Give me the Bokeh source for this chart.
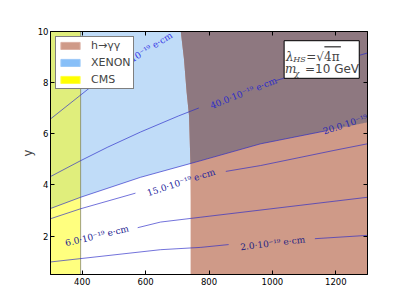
import numpy as np
from bokeh.plotting import figure
from bokeh.models import (Range1d, LinearAxis, FixedTicker, CustomJSTickFormatter,
                          Legend, LegendItem, BoxAnnotation, Label, Arrow)
from bokeh.core.properties import value
from bokeh.embed import file_html
from bokeh.resources import INLINE

nan = float("nan")

# ---------------- data ----------------
M_min, M_max = 300, 1300
y_min, y_max = 0.5, 10
x_ticks = [400, 600, 800, 1000, 1200]
y_ticks = [2, 4, 6, 8, 10]

# CMS excluded band in M
cms_M = [300, 395]

# h -> gamma gamma boundary (M as function of y)
hgg_y = [10, 8.93, 7.62, 6.71, 5.0, 3.4, 0.5]
hgg_M = [711, 721, 729.5, 737, 741, 742, 742]

# EDM contour lines (NaN = gap where the inline label sits)
c2_M = [300, 647, 774, 862, nan, 1134, 1300]
c2_y = [0.99, 1.47, 1.56, 1.67, nan, 1.90, 2.03]
c6_M = [575, 647, 774, 1300]
c6_y = [2.33, 2.55, 2.74, 3.52]
c15_M = [300, 395, 568, nan, 853, 963, 1194, 1300]
c15_y = [2.68, 3.07, 3.68, nan, 4.53, 4.76, 5.35, 5.61]
c20_M = [300, 395, 584, 774, 963, 1174, nan, 1300]   # also XENON boundary
c20_y = [3.08, 3.52, 4.30, 4.95, 5.61, 6.13, nan, 6.45]
c40_M = [300, 395, 479, 584, 704, 768, nan, 1011, 1269, 1300]
c40_y = [4.33, 4.95, 5.47, 6.07, 6.70, 7.01, nan, 8.08, 9.05, 9.16]
c80_M = [300, 426, 520]
c80_y = [6.58, 7.82, 8.5]

label_texts = ["2.0·10⁻¹⁹ e·cm", "6.0·10⁻¹⁹ e·cm", "15.0·10⁻¹⁹ e·cm",
               "20.0·10⁻¹⁹", "40.0·10⁻¹⁹ e·cm", "80.0·10⁻¹⁹ e·cm"]
label_M = [1001, 447, 712, 1230, 909, 587]
label_y = [1.717, 2.01, 4.10, 6.36, 7.59, 9.15]
label_angle_deg = [6.8, 13.4, 17.9, 18.0, 21.6, 32.0]

# ---------------- derived region geometry ----------------
def valid(Ms, ys):
    Ms = np.asarray(Ms, float); ys = np.asarray(ys, float)
    m = ~np.isnan(Ms)
    return Ms[m], ys[m]

x20, y20 = valid(c20_M, c20_y)

# XENON: above the 20-line
blue_xs = list(x20) + [M_max, M_min]
blue_ys = list(y20) + [y_max, y_max]

# h->gg: right of boundary
hgg_xs = list(hgg_M) + [M_max, M_max]
hgg_ys = list(hgg_y) + [y_min, y_max]

# overlap of both
yy = np.linspace(y_min, y_max, 400)
gM = np.interp(yy, hgg_y[::-1], hgg_M[::-1])
f_at_g = np.interp(gM, x20, y20)
mask = yy >= f_at_g
left_x = gM[mask]; left_y = yy[mask]
MM = np.linspace(left_x[0], M_max, 200)
dark_xs = list(left_x) + [M_max] + list(MM[::-1])
dark_ys = list(left_y) + [y_max] + list(np.interp(MM[::-1], x20, y20))

# ---------------- figure ----------------
p = figure(frame_width=317, frame_height=243,
           x_range=Range1d(M_min, M_max), y_range=Range1d(y_min, y_max),
           output_backend="svg", toolbar_location=None,
           min_border_left=50, min_border_top=31, min_border_right=20, min_border_bottom=30,
           background_fill_color="white", border_fill_color="white")
p.grid.visible = False
p.outline_line_color = "black"

for ax, t in ((p.xaxis[0], x_ticks), (p.yaxis[0], y_ticks)):
    ax.ticker = FixedTicker(ticks=t)
    ax.major_tick_in = 4
    ax.major_tick_out = 0
    ax.minor_tick_in = 0
    ax.minor_tick_out = 0
    ax.major_label_text_font = "DejaVu Sans"
    ax.major_label_text_font_size = "8.5px"
    ax.major_label_text_color = "black"
    ax.axis_line_color = "black"
    ax.major_tick_line_color = "black"
p.xaxis.major_label_standoff = 3
p.yaxis.major_label_standoff = 2
p.yaxis.axis_label = "y"
p.yaxis.axis_label_text_font = "DejaVu Sans"
p.yaxis.axis_label_text_font_style = "normal"
p.yaxis.axis_label_text_font_size = "11.5px"
p.yaxis.axis_label_standoff = 0

for loc, t in (("right", y_ticks), ("above", x_ticks)):
    a = LinearAxis(ticker=FixedTicker(ticks=t),
                   formatter=CustomJSTickFormatter(code="return ''"),
                   major_tick_in=4, major_tick_out=0, minor_tick_in=0, minor_tick_out=0,
                   major_label_standoff=0, major_label_text_font_size="1px")
    p.add_layout(a, loc)

# regions
p.patch(blue_xs, blue_ys, fill_color="#c0dcf8", line_color=None)
p.patch(hgg_xs, hgg_ys, fill_color="#cf9a88", line_color=None)
p.patch(dark_xs, dark_ys, fill_color="#8e7880", line_color=None)
p.quad(left=[cms_M[0]], right=[cms_M[1]], bottom=[y_min], top=[y_max],
       fill_color="#ffff00", fill_alpha=0.5, line_color="#7a7a60", line_alpha=0.7, line_width=1)

# contours
for Ms, ys in ((c2_M, c2_y), (c6_M, c6_y), (c15_M, c15_y), (c20_M, c20_y),
               (c40_M, c40_y), (c80_M, c80_y)):
    p.line(Ms, ys, line_color="#2828c8", line_alpha=0.65, line_width=1)

label_colors = ["#1e1e82", "#222290", "#24249c", "#2828b0", "#2c2cc8", "#3434e6"]
p.text(x=label_M, y=label_y, text=label_texts,
       angle=[np.deg2rad(a) for a in label_angle_deg],
       text_font=value("DejaVu Serif"), text_font_size="9px",
       text_color=label_colors, text_align="center", text_baseline="middle")

# legend (proxy renderers, placed outside the visible ranges)
px0, px1 = [M_min - 300], [M_min - 200]
py0, py1 = [y_min - 5], [y_min - 4]
r_h = p.quad(left=px0, right=px1, bottom=py0, top=py1, fill_color="#cf9a88", line_color="#dcb0a4")
r_x = p.quad(left=px0, right=px1, bottom=py0, top=py1, fill_color="#87bff8", line_color="#9cc9f8")
r_c = p.quad(left=px0, right=px1, bottom=py0, top=py1, fill_color="#ffff00", line_color="#ffff40")
legend = Legend(items=[LegendItem(label="h→γγ", renderers=[r_h]),
                       LegendItem(label="XENON", renderers=[r_x]),
                       LegendItem(label="CMS", renderers=[r_c])],
                location="top_left", border_line_color="black", border_line_width=1,
                background_fill_color="white", background_fill_alpha=1,
                label_text_font="DejaVu Sans", label_text_font_size="11px",
                glyph_width=24, glyph_height=9, label_standoff=9,
                padding=2, spacing=4, margin=5, label_height=13)
p.add_layout(legend)

# parameter box
p.add_layout(BoxAnnotation(left=1037, right=1274, top=9.64, bottom=8.17,
                           fill_color="white", fill_alpha=1,
                           line_color="black", line_width=1, line_alpha=1))
p.add_layout(Label(x=1043, y=9.013, text="λ", text_font="DejaVu Serif",
                   text_font_style="italic", text_font_size="12px", text_baseline="alphabetic"))
p.add_layout(Label(x=1066, y=8.90, text="HS", text_font="DejaVu Serif",
                   text_font_style="italic", text_font_size="8px", text_baseline="alphabetic"))
p.add_layout(Label(x=1107, y=9.013, text="=√4π", text_font="DejaVu Serif",
                   text_font_size="12px", text_baseline="alphabetic"))
p.add_layout(Arrow(x_start=1164, y_start=9.40, x_end=1216, y_end=9.40, end=None,
                   line_color="black", line_width=1))
p.add_layout(Label(x=1040, y=8.533, text="m", text_font="DejaVu Serif",
                   text_font_style="italic", text_font_size="12px", text_baseline="alphabetic"))
p.add_layout(Label(x=1070, y=8.35, text="χ", text_font="DejaVu Serif",
                   text_font_style="italic", text_font_size="8px", text_baseline="alphabetic"))
p.add_layout(Label(x=1103, y=8.533, text="=10 GeV", text_font="DejaVu Sans",
                   text_font_size="12px", text_baseline="alphabetic"))

# x axis label
p.add_layout(Label(x=757, y=-0.19, text="M", text_font="DejaVu Serif",
                   text_font_style="italic", text_font_size="11.5px",
                   text_align="right", text_baseline="middle"))
p.add_layout(Label(x=768, y=-0.19, text="[GeV]", text_font="DejaVu Sans",
                   text_font_size="11.5px", text_align="left", text_baseline="middle"))

open("out.html", "w").write(file_html(p, INLINE))
